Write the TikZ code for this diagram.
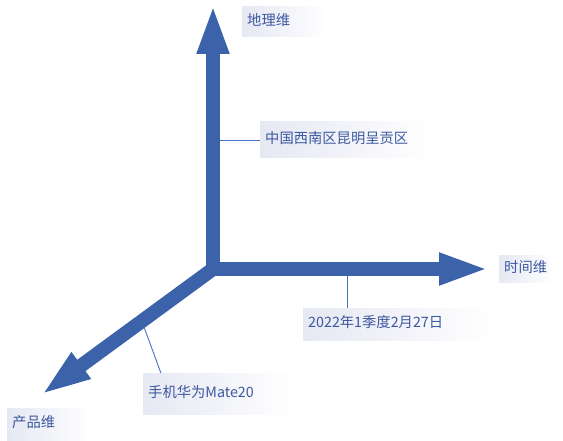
\documentclass[tikz,border=0pt]{standalone}
\usepackage{fontspec}
\setmainfont{Noto Sans CJK SC}
\usetikzlibrary{arrows.meta,calc}
\definecolor{axisblue}{RGB}{60,98,170}
\definecolor{leadblue}{RGB}{68,114,196}
\definecolor{textblue}{RGB}{60,88,160}
\definecolor{boxshade}{RGB}{230,232,243}
\begin{document}
\begin{tikzpicture}
        [x=1pt,y=-1pt,
        axis/.style={draw=axisblue,line width=14pt,line cap=rect,
                -{Triangle[width=29pt,length=50pt,fill=axisblue]}},
        lead/.style={draw=leadblue,line width=0.9pt},
        label/.style={anchor=west,text=textblue,inner sep=5pt,
                left color=boxshade,right color=white,
                font=\fontsize{14.3}{17}\selectfont}]
        \useasboundingbox (0,0) rectangle (563,441);
        \coordinate (O) at (213,269);
        \coordinate (geoTip) at (213,4);
        \coordinate (timeTip) at (489,269);
        \coordinate (prodTip) at (41,395);
        \draw[axis] (O) -- (geoTip);
        \draw[axis] (O) -- (timeTip);
        \draw[axis] (O) -- (prodTip);
        % axis names
        \node[label,minimum height=30pt,text width=75pt] (geo) at (242,22) {\strut 地理维};
        \node[label,minimum height=24pt,text width=45pt] (time) at (499,269) {\strut 时间维};
        \node[label,minimum height=32pt,text width=75pt] (prod) at (7,424) {\strut 产品维};
        % values
        \node[label,minimum height=36pt,text width=160pt] (geoVal) at (260,140) {\strut 中国西南区昆明呈贡区};
        \node[label,minimum height=32pt,text width=180pt] (timeVal) at (303,324) {\strut 2022年1季度2月27日};
        \node[label,minimum height=41pt,text width=140pt] (prodVal) at (143,394) {\strut 手机华为Mate20};
        \coordinate (geoPt) at (220,140);
        \coordinate (timePt) at (347,276);
        \coordinate (prodPt) at (144,327);
        \draw[lead] (geoPt) -- (geoVal.west);
        \draw[lead] (timePt) -- (timePt |- timeVal.north);
        \draw[lead] (prodPt) -- ($(prodVal.north west)+(18,0)$);
    \end{tikzpicture}
\end{document}
